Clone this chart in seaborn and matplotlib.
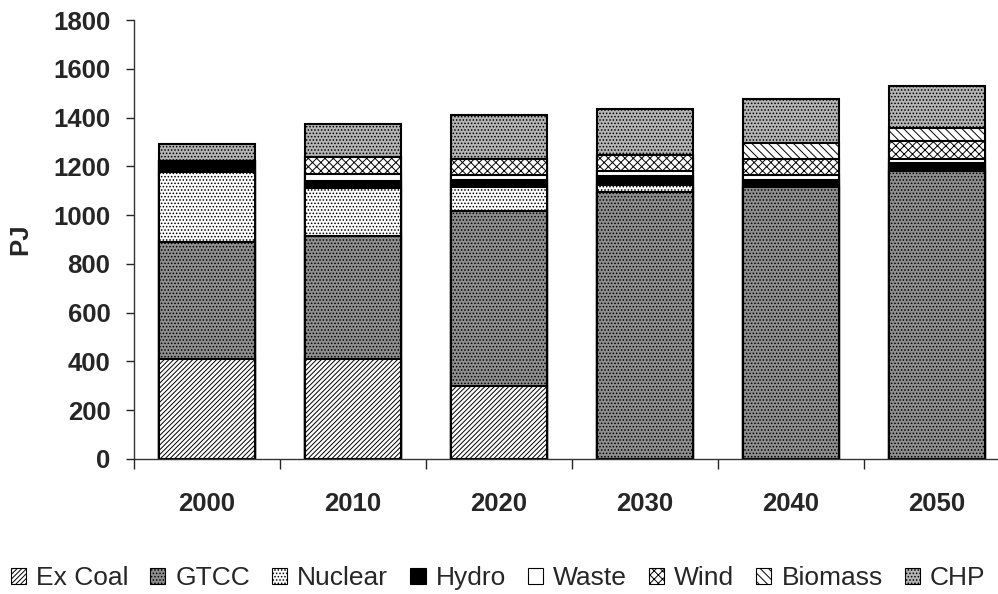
import pandas as pd
import seaborn as sns
import matplotlib.pyplot as plt
from matplotlib.patches import Patch

# values (PJ)
years = ['2000', '2010', '2020', '2030', '2040', '2050']
sources = ['Ex Coal', 'GTCC', 'Nuclear', 'Hydro', 'Waste', 'Wind', 'Biomass', 'CHP']
ex_coal = [410, 410, 300, 0, 0, 0]
gtcc = [480, 504, 715, 1095, 1115, 1180]
nuclear = [287, 196, 100, 28, 0, 0]
hydro = [45, 29, 28, 37, 29, 32]
waste = [0, 28, 20, 21, 20, 17]
wind = [0, 70, 66, 65, 66, 74]
biomass = [0, 0, 0, 0, 65, 53]
chp = [70, 136, 181, 189, 180, 174]

# fill colour and hatch for each source
styles = {
    'Ex Coal': ('white', '///////'),
    'GTCC': ('#8f8f8f', '.....'),
    'Nuclear': ('white', '.....'),
    'Hydro': ('black', None),
    'Waste': ('white', None),
    'Wind': ('white', 'xxxx'),
    'Biomass': ('white', '\\\\\\\\'),
    'CHP': ('#b4b4b4', '.....'),
}

sns.set_style('white')
plt.rcParams['font.family'] = ['Liberation Sans', 'DejaVu Sans']
plt.rcParams['hatch.linewidth'] = 0.7

df = pd.DataFrame({'year': years, 'Ex Coal': ex_coal, 'GTCC': gtcc, 'Nuclear': nuclear,
                   'Hydro': hydro, 'Waste': waste, 'Wind': wind, 'Biomass': biomass, 'CHP': chp})
cum = df[sources].cumsum(axis=1)
cum['year'] = df['year']

fig = plt.figure(figsize=(9.98, 5.94), dpi=100)
ax = fig.add_axes([134 / 998, 135 / 594, 876 / 998, 439 / 594])

# draw from the top layer down so lower segments cover the upper bars
for src in reversed(sources):
    face, hatch = styles[src]
    sns.barplot(data=cum, x='year', y=src, order=years, ax=ax, color=face,
                saturation=1, width=0.66, edgecolor='black', linewidth=1.5,
                hatch=hatch, errorbar=None)

ax.set_ylim(0, 1800)
ax.set_xlim(-0.5, 5.5)
ax.set_yticks(range(0, 1801, 200))
ax.set_ylabel('PJ', fontsize=18.5, fontweight='bold', labelpad=15)
ax.set_xlabel('')
for lbl in ax.get_xticklabels() + ax.get_yticklabels():
    lbl.set_fontweight('bold')
    lbl.set_fontsize(18.5)

sns.despine(ax=ax, top=True, right=True)
for sp in ['left', 'bottom']:
    ax.spines[sp].set_color('#333333')
    ax.spines[sp].set_linewidth(1.0)
ax.tick_params(axis='y', direction='out', length=6, width=1, left=True, pad=11)
ax.tick_params(axis='x', which='major', length=0, pad=24)
ax.set_xticks([i - 0.5 for i in range(6)], minor=True)
ax.tick_params(axis='x', which='minor', direction='out', length=7, width=1, bottom=True)

handles = []
for src in sources:
    face, hatch = styles[src]
    handles.append(Patch(facecolor=face, edgecolor='black', hatch=hatch,
                         linewidth=0.8, label=src))
fig.legend(handles=handles, loc='lower left', bbox_to_anchor=(-0.004, -0.018), ncol=8,
           frameon=False, fontsize=19, handlelength=0.57, handleheight=0.57,
           handletextpad=0.38, columnspacing=0.84, borderaxespad=0.15)

fig.savefig('out.png', dpi=100)
